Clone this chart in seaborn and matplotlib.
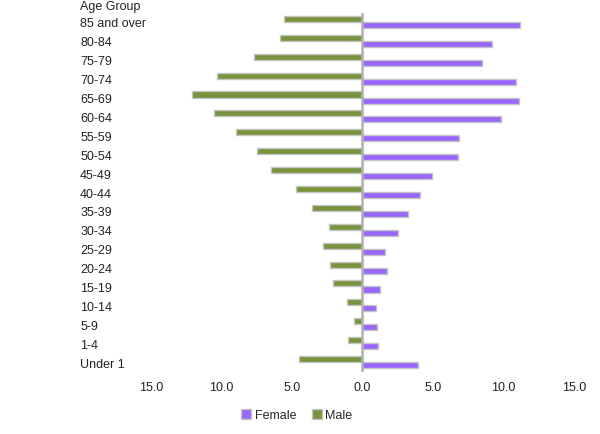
#!/usr/bin/env python3
import numpy as np
import pandas as pd
import seaborn as sns
from matplotlib import pyplot as plt
from matplotlib.patches import Patch

age_groups = ["85 and over", "80-84", "75-79", "70-74", "65-69", "60-64", "55-59",
              "50-54", "45-49", "40-44", "35-39", "30-34", "25-29", "20-24",
              "15-19", "10-14", "5-9", "1-4", "Under 1"]
male = [5.6, 5.85, 7.7, 10.35, 12.1, 10.5, 9.0, 7.5, 6.5, 4.7, 3.6, 2.35, 2.8,
        2.3, 2.1, 1.08, 0.6, 1.0, 4.5]
female = [11.2, 9.2, 8.5, 10.9, 11.1, 9.85, 6.85, 6.75, 4.9, 4.05, 3.2, 2.55,
          1.63, 1.72, 1.22, 0.94, 1.0, 1.13, 3.96]
xticks = [-15, -10, -5, 0, 5, 10, 15]
xtick_labels = ["15.0", "10.0", "5.0", "0.0", "5.0", "10.0", "15.0"]

MALE_C = "#77933c"
FEMALE_C = "#9966ff"


def main():
    df = pd.DataFrame({
        "age": age_groups * 2,
        "value": [-m for m in male] + female,
        "sex": ["Male"] * len(male) + ["Female"] * len(female),
    })

    sns.set_theme(style="white")
    plt.rcParams["font.family"] = ["Liberation Sans", "DejaVu Sans"]

    fig = plt.figure(figsize=(6, 4.35), dpi=100)
    ax = fig.add_axes([151 / 600, 1 - 372.5 / 435, 423 / 600, 359 / 435])

    sns.barplot(data=df, x="value", y="age", hue="sex", order=age_groups,
                hue_order=["Male", "Female"], palette=[MALE_C, FEMALE_C],
                orient="h", width=0.64, dodge=True, saturation=1,
                edgecolor="#c4c4c4", linewidth=1.0, legend=False, ax=ax)

    ax.axvline(0, color="#b0b0b0", lw=1.8, zorder=5)
    ax.set_xlim(-15, 15)
    ax.set_ylim(len(age_groups) - 0.5, -0.5)
    ax.set_xticks(xticks, xtick_labels)
    ax.set_xlabel("")
    ax.set_ylabel("")
    for s in ax.spines.values():
        s.set_visible(False)
    ax.tick_params(axis="x", length=0, pad=7, labelsize=9, labelcolor="#222222")
    ax.tick_params(axis="y", length=0, pad=51, labelsize=9, labelcolor="#222222")
    for lbl in ax.get_yticklabels():
        lbl.set_horizontalalignment("left")

    fig.text(80 / 600, 1 - 7 / 435, "Age Group", ha="left", va="center",
             fontsize=9, color="#222222")

    handles = [Patch(facecolor=FEMALE_C, edgecolor="#c4c4c4", label="Female"),
               Patch(facecolor=MALE_C, edgecolor="#c4c4c4", label="Male")]
    fig.legend(handles=handles, loc="center", bbox_to_anchor=(297 / 600, 1 - 416 / 435),
               ncol=2, frameon=False, fontsize=9, handlelength=0.8, handleheight=0.8,
               handletextpad=0.3, columnspacing=1.2)

    plt.savefig("out.png")


if __name__ == '__main__':
    main()
